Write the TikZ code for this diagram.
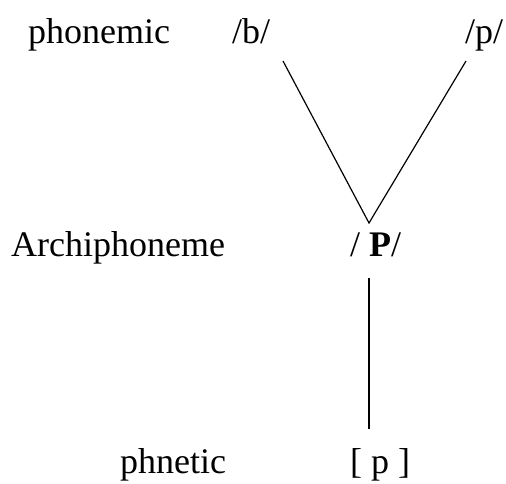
\documentclass[tikz,border=0pt]{standalone}
\usepackage{fontspec}
\setmainfont{Liberation Serif}
\begin{document}
\begin{tikzpicture}[x=1pt,y=-1pt,
    lbl/.style={anchor=base west,inner sep=0pt,font=\fontsize{36}{40}\selectfont},
    link/.style={black,line width=1.2pt}]
    \useasboundingbox (0,0) rectangle (506,483);
    % levels
    \node[lbl] (phonemic) at (28,43) {phonemic};
    \node[lbl] (archi) at (11,256) {Archiphoneme};
    \node[lbl] (phnetic) at (120,473) {phnetic};
    % segments
    \node[lbl] (b) at (232,43) {/b/};
    \node[lbl] (p) at (465,43) {/p/};
    \node[lbl] (P) at (350,256) {/ \textbf{P}/};
    \node[lbl] (ph) at (350,473) {[ p ]};
    % line ends
    \coordinate (btop) at (283,61);
    \coordinate (ptop) at (466,61);
    \coordinate (apex) at (369,223);
    \coordinate (Pbot) at (369,278);
    \coordinate (phtop) at (369,429);
    % lines
    \draw[link] (btop) -- (apex) -- (ptop);
    \draw[link] (Pbot) -- (phtop);
\end{tikzpicture}
\end{document}
